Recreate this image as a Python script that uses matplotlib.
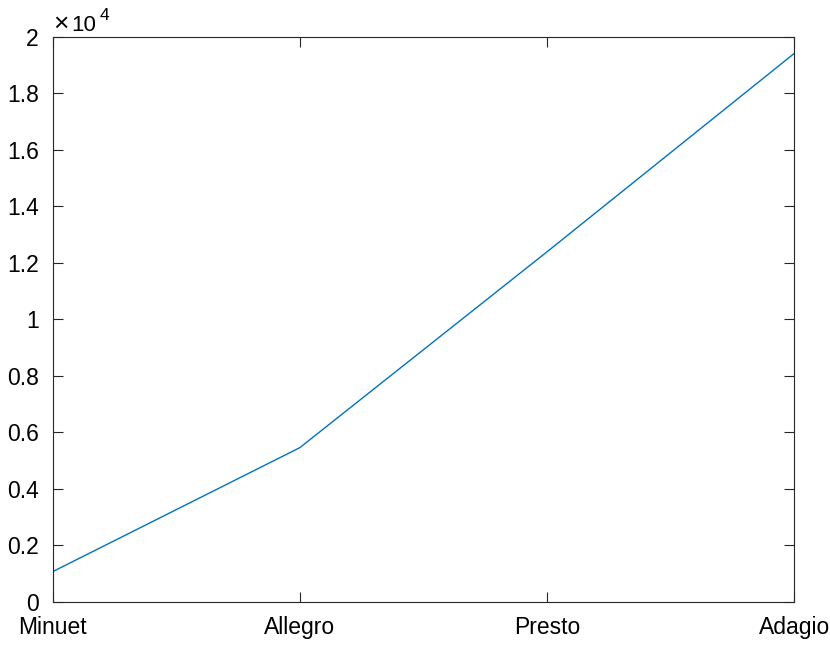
import matplotlib.pyplot as plt
from matplotlib.ticker import FuncFormatter, MultipleLocator

plt.rcParams["font.family"] = ["Liberation Sans", "DejaVu Sans"]

movements = ["Minuet", "Allegro", "Presto", "Adagio"]
values = [1070, 5460, 12390, 19410]

fig = plt.figure(figsize=(8.3, 6.45), dpi=100)
ax = fig.add_axes([0.0633, 0.0667, 0.8937, 0.8764])

x = range(len(movements))
ax.plot(x, values, color="#0072BD", linewidth=1.0)

ax.set_xlim(0, len(movements) - 1)
ax.set_ylim(0, 20000)
ax.set_xticks(list(x))
ax.set_xticklabels(movements)
ax.yaxis.set_major_locator(MultipleLocator(2000))
ax.yaxis.set_major_formatter(FuncFormatter(lambda v, p: "%g" % (v / 1e4)))

edge = "#262626"
for s in ax.spines.values():
    s.set_color(edge)
    s.set_linewidth(0.8)
ax.tick_params(direction="in", length=7, width=0.8, colors=edge,
               labelsize=16.5, labelcolor="black",
               top=True, right=True)
ax.tick_params(axis="x", pad=10)
ax.tick_params(axis="y", pad=10)

# exponent label in MATLAB style
fig.text(53 / 830, 1 - 31 / 645, "\u00d7", fontsize=19,
         ha="left", va="baseline")
fig.text(71 / 830, 1 - 31 / 645, "10", fontsize=16,
         ha="left", va="baseline")
fig.text(100 / 830, 1 - 20 / 645, "4", fontsize=12.5,
         ha="left", va="baseline")

fig.savefig("out.png", dpi=100)
